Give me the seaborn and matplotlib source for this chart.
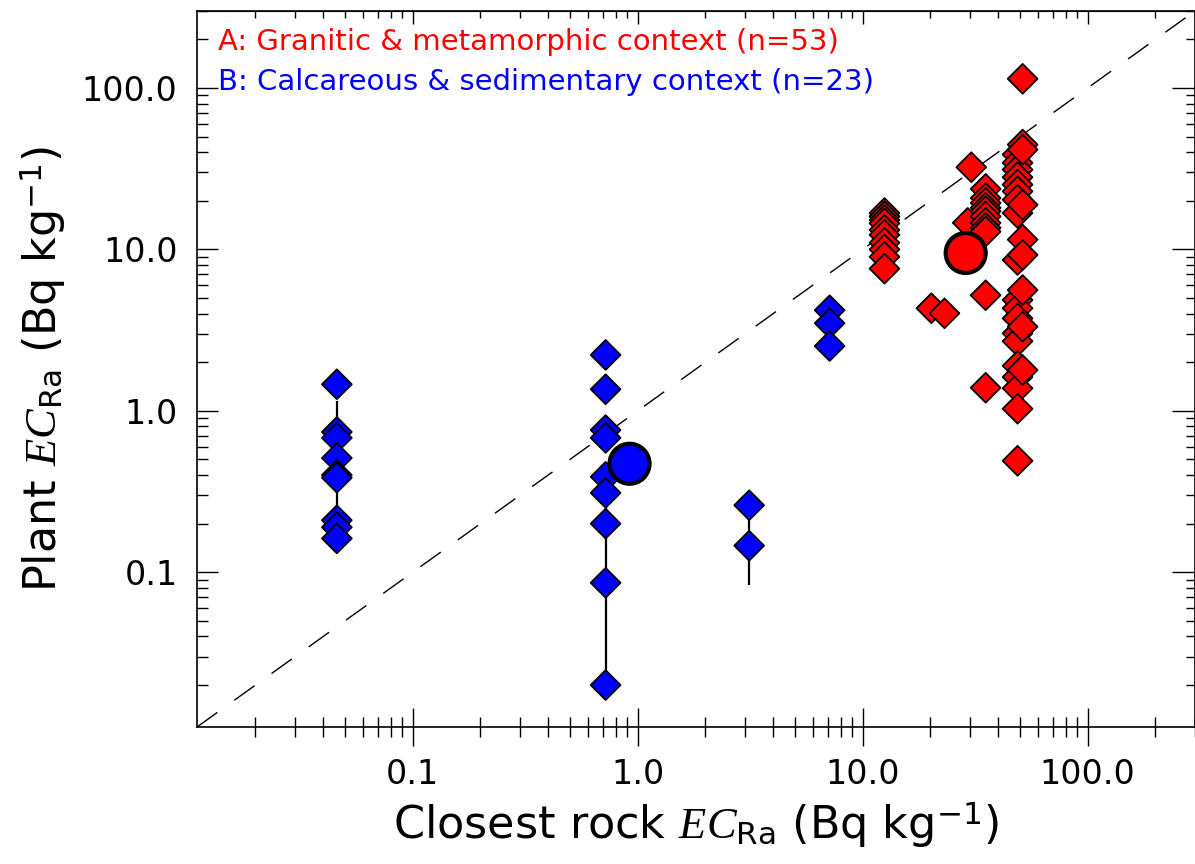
import numpy as np
import pandas as pd
import matplotlib
matplotlib.use("Agg")
import matplotlib.pyplot as plt
import matplotlib.ticker as mticker
import seaborn as sns

# ---- datos ----
blue_x = [0.046] * 9 + [0.72] * 9 + [3.13] * 2 + [7.13] * 3
blue_y = [1.46, 0.74, 0.68, 0.51, 0.40, 0.385, 0.21, 0.19, 0.162,
          2.22, 1.36, 0.76, 0.68, 0.39, 0.31, 0.20, 0.086, 0.020,
          0.26, 0.146,
          4.2, 3.49, 2.52]

red_x = ([12.5] * 10 + [20.2, 23.1] + [30.4, 29.3] + [35.2] * 11
         + [48.8] * 19 + [51.4] * 9)
red_y = [16.8, 16.0, 15.2, 14.5, 13.2, 12.3, 11.0, 10.0, 9.0, 7.6,
         4.32, 4.02,
         32.3, 14.6,
         23.7, 20.8, 19.4, 18.1, 17.2, 16.0, 14.6, 13.6, 12.9, 5.2, 1.39,
         38.7, 34.4, 31.2, 28.0, 25.2, 22.9, 20.3, 16.8, 8.6, 4.86, 4.32,
         3.74, 3.02, 2.7, 1.9, 1.62, 1.38, 1.03, 0.49,
         114, 44.6, 41.5, 18.9, 11.5, 9.25, 5.6, 3.32, 1.79]

# medias (circulos grandes)
mean_x = [0.92, 28.7]
mean_y = [0.47, 9.5]
mean_group = ["B", "A"]

# barras verticales del grupo B
bar_x = [0.046, 0.72, 3.13]
bar_lo = [0.25, 0.020, 0.083]
bar_hi = [1.15, 0.42, 0.26]

major_ticks = [0.1, 1.0, 10.0, 100.0]
major_labels = ["0.1", "1.0", "10.0", "100.0"]
lims = (0.011, 300)

textos = ["A: Granitic & metamorphic context (n=53)",
          "B: Calcareous & sedimentary context (n=23)"]
colores = {"A": "#ff0000", "B": "#0000ff"}

plt.rcParams["font.family"] = ["DejaVu Sans"]
plt.rcParams["mathtext.fontset"] = "custom"
plt.rcParams["mathtext.rm"] = "DejaVu Sans"
plt.rcParams["mathtext.sf"] = "DejaVu Sans"
plt.rcParams["mathtext.it"] = "Liberation Serif:italic"

df = pd.DataFrame({
    "rock": blue_x + red_x,
    "plant": blue_y + red_y,
    "grupo": ["B"] * len(blue_x) + ["A"] * len(red_x),
})
df_mean = pd.DataFrame({"rock": mean_x, "plant": mean_y, "grupo": mean_group})

fig = plt.figure(figsize=(11.95, 8.64), dpi=100)
ax = fig.add_axes([0.1649, 0.1586, 0.8351, 0.8287])
ax.set_xscale("log")
ax.set_yscale("log")
ax.set_xlim(*lims)
ax.set_ylim(*lims)

# linea 1:1
ax.plot(lims, lims, color="black", lw=1.0, dashes=(18, 15), zorder=1)

ax.vlines(bar_x, bar_lo, bar_hi, color="black", lw=1.6, zorder=2)

sns.scatterplot(data=df, x="rock", y="plant", hue="grupo", palette=colores,
                marker="D", s=230, edgecolor="black", linewidth=1.3,
                legend=False, ax=ax, zorder=3)
sns.scatterplot(data=df_mean, x="rock", y="plant", hue="grupo", palette=colores,
                marker="o", s=830, edgecolor="black", linewidth=3.0,
                legend=False, ax=ax, zorder=4)

# ejes y ticks
minor = mticker.LogLocator(base=10, subs=np.arange(2, 10))
for axis in (ax.xaxis, ax.yaxis):
    axis.set_major_locator(mticker.FixedLocator(major_ticks))
    axis.set_major_formatter(mticker.FixedFormatter(major_labels))
    axis.set_minor_locator(minor)
    axis.set_minor_formatter(mticker.NullFormatter())

ax.tick_params(axis="x", which="major", direction="inout", length=27, width=1, pad=9, labelsize=24)
ax.tick_params(axis="x", which="minor", direction="inout", length=14, width=1)
ax.tick_params(axis="y", which="major", direction="in", length=15, width=1, pad=14, labelsize=24)
ax.tick_params(axis="y", which="minor", direction="in", length=8, width=1)
for s in ax.spines.values():
    s.set_linewidth(1.2)

top = ax.secondary_xaxis("top")
top.xaxis.set_major_locator(mticker.FixedLocator(major_ticks))
top.xaxis.set_minor_locator(mticker.LogLocator(base=10, subs=np.arange(2, 10)))
top.xaxis.set_major_formatter(mticker.NullFormatter())
top.xaxis.set_minor_formatter(mticker.NullFormatter())
top.tick_params(which="major", direction="in", length=9.5, width=1)
top.tick_params(which="minor", direction="in", length=5, width=1)

right = ax.secondary_yaxis("right")
right.yaxis.set_major_locator(mticker.FixedLocator(major_ticks))
right.yaxis.set_minor_locator(mticker.LogLocator(base=10, subs=np.arange(2, 10)))
right.yaxis.set_major_formatter(mticker.NullFormatter())
right.yaxis.set_minor_formatter(mticker.NullFormatter())
right.tick_params(which="major", direction="in", length=16.5, width=1)
right.tick_params(which="minor", direction="in", length=6.5, width=1)

ax.set_xlabel(r"Closest rock $\mathit{EC}_{\mathsf{Ra}}$ (Bq kg$^{-1}$)", fontsize=32, labelpad=6)
ax.set_ylabel(r"Plant $\mathit{EC}_{\mathsf{Ra}}$ (Bq kg$^{-1}$)", fontsize=32, labelpad=10)

ax.text(0.021, 0.957, textos[0], color=colores["A"], fontsize=21,
        transform=ax.transAxes, va="center", ha="left")
ax.text(0.021, 0.901, textos[1], color=colores["B"], fontsize=21,
        transform=ax.transAxes, va="center", ha="left")

fig.savefig("out.png", dpi=100)
